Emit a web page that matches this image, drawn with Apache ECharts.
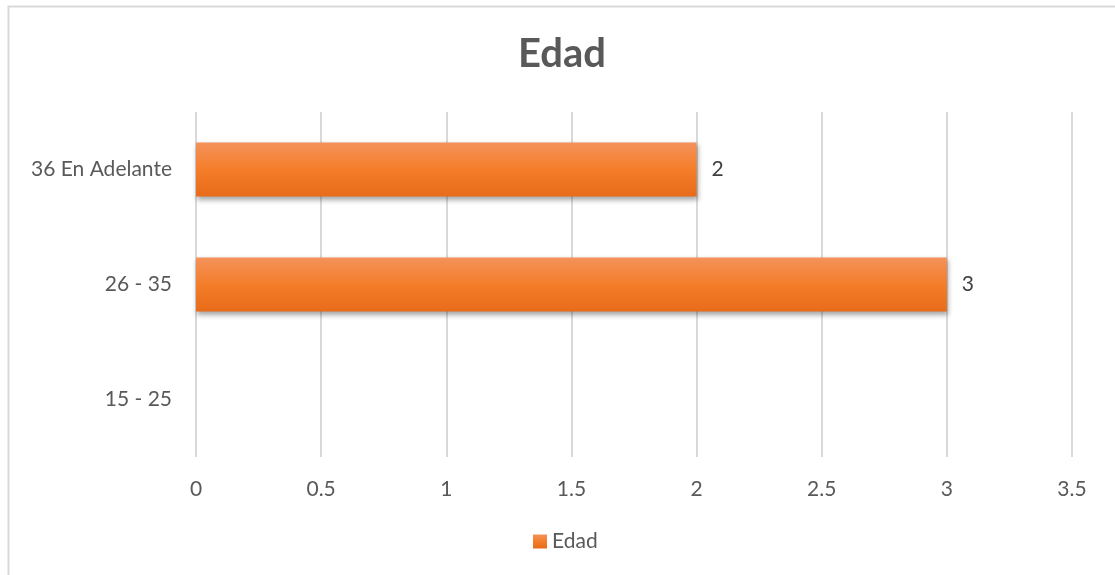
<!DOCTYPE html>
<html>
<head>
<meta charset="utf-8">
<script src="https://cdn.jsdelivr.net/npm/echarts@6/dist/echarts.min.js"></script>
<style>html,body{margin:0;padding:0;background:#fff;}#c{width:1115px;height:575px;}</style>
</head>
<body>
<div id="c"></div>
<script>
var categories = ['15 - 25', '26 - 35', '36 En Adelante'];
var values = [0, 3, 2];
var xTicks = [0, 0.5, 1, 1.5, 2, 2.5, 3, 3.5];
var seriesName = 'Edad';
var titleText = 'Edad';

var font = 'Lato, "Open Sans", sans-serif';
var chart = echarts.init(document.getElementById('c'));
chart.setOption({
  backgroundColor: '#fff',
  animation: false,
  graphic: [{
    type: 'rect', shape: { x: 8.5, y: 6.5, width: 1200, height: 700 },
    style: { fill: 'none', stroke: '#d9d9d9', lineWidth: 2 }, silent: true, z: -10
  }],
  title: {
    text: titleText, left: 513, top: 29,
    textStyle: { fontFamily: font, fontSize: 40, fontWeight: 'bold', color: '#595959' }
  },
  legend: {
    data: [seriesName], bottom: 18, left: 528, itemWidth: 14, itemHeight: 14, icon: 'rect', itemGap: 6,
    textStyle: { fontFamily: font, fontSize: 21, color: '#595959' }
  },
  grid: { left: 196, right: 43, top: 112, bottom: 118, containLabel: false },
  xAxis: {
    type: 'value', min: 0, max: 3.5, interval: 0.5,
    axisLine: { show: false }, axisTick: { show: false },
    splitLine: { show: true, lineStyle: { color: '#d9d9d9', width: 2 } },
    axisLabel: { fontFamily: font, fontSize: 21, color: '#595959', margin: 22,
      formatter: function (v) { return xTicks.indexOf(v) >= 0 ? String(v) : ''; } }
  },
  yAxis: {
    type: 'category', data: categories,
    axisLine: { show: false }, axisTick: { show: false },
    axisLabel: { fontFamily: font, fontSize: 21, color: '#595959', margin: 24 }
  },
  series: [{
    name: seriesName, type: 'bar', data: values, barWidth: '47%',
    itemStyle: {
      color: new echarts.graphic.LinearGradient(0, 0, 0, 1, [
        { offset: 0, color: '#f4925a' },
        { offset: 0.5, color: '#f47d2a' },
        { offset: 1, color: '#e86b19' }
      ]),
      shadowColor: 'rgba(0,0,0,0.35)', shadowBlur: 5, shadowOffsetY: 3, shadowOffsetX: 1
    },
    label: {
      show: true, position: 'right', distance: 15,
      fontFamily: font, fontSize: 21, color: '#404040',
      formatter: function (p) { return p.value ? String(p.value) : ''; }
    }
  }]
});
</script>
</body>
</html>
